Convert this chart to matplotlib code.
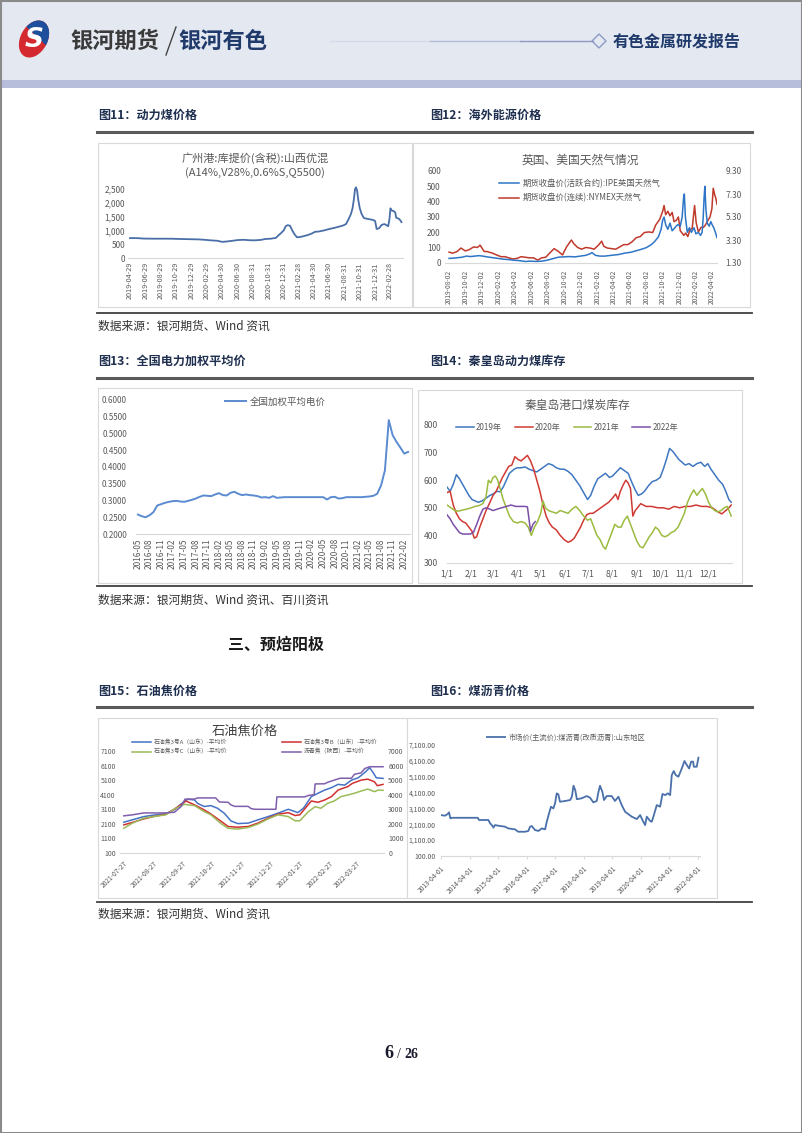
import matplotlib as mpl
import matplotlib.pyplot as plt
from matplotlib.lines import Line2D
from matplotlib.patches import Rectangle, Polygon, Ellipse
from matplotlib.ticker import FuncFormatter
import numpy as np
import pandas as pd

plt.rcParams['font.family'] = ['Noto Sans CJK SC', 'DejaVu Sans']
plt.rcParams['axes.unicode_minus'] = False

#######
# data

# 图11 广州港 山西优混
c11_dates = ['2019-04-29', '2019-05-15', '2019-06-01', '2019-06-20', '2019-07-10', '2019-08-01',
             '2019-08-25', '2019-09-20', '2019-10-15', '2019-11-10', '2019-12-05', '2019-12-31',
             '2020-01-25', '2020-02-20', '2020-03-15', '2020-04-10', '2020-04-30', '2020-05-20',
             '2020-06-10', '2020-07-01', '2020-07-25', '2020-08-15', '2020-09-05', '2020-09-30',
             '2020-10-20', '2020-11-10', '2020-11-30', '2020-12-10', '2020-12-20', '2020-12-31',
             '2021-01-08', '2021-01-15', '2021-01-25', '2021-02-03', '2021-02-12', '2021-02-22',
             '2021-03-05', '2021-03-20', '2021-04-05', '2021-04-20', '2021-05-05', '2021-05-20',
             '2021-06-10', '2021-06-30', '2021-07-20', '2021-08-10', '2021-08-25', '2021-09-05',
             '2021-09-15', '2021-09-25', '2021-10-01', '2021-10-06', '2021-10-11', '2021-10-15',
             '2021-10-19', '2021-10-24', '2021-10-30', '2021-11-06', '2021-11-15', '2021-11-28',
             '2021-12-10', '2021-12-22', '2021-12-30', '2022-01-05', '2022-01-15', '2022-01-25',
             '2022-02-05', '2022-02-15', '2022-02-20', '2022-02-25', '2022-03-01', '2022-03-06',
             '2022-03-14', '2022-03-20', '2022-03-24', '2022-04-02', '2022-04-08', '2022-04-14']
c11_vals = [720, 722, 718, 705, 702, 700,
            700, 700, 698, 690, 685, 680,
            675, 660, 640, 625, 585, 600,
            625, 650, 660, 645, 640, 655,
            690, 700, 730, 820, 900, 1000,
            1150, 1190, 1170, 1000, 860, 750,
            760, 790, 830, 880, 950, 960,
            1000, 1050, 1090, 1140, 1180, 1230,
            1400, 1600, 1800, 2100, 2500, 2560,
            2450, 2100, 1800, 1600, 1450, 1420,
            1400, 1380, 1340, 1050, 1080, 1200,
            1230, 1180, 1150, 1400, 1800, 1720,
            1700, 1650, 1460, 1430, 1380, 1300]
c11_ticks = ['2019-04-29', '2019-06-29', '2019-08-29', '2019-10-29', '2019-12-29', '2020-02-29',
             '2020-04-30', '2020-06-30', '2020-08-31', '2020-10-31', '2020-12-31', '2021-02-28',
             '2021-04-30', '2021-06-30', '2021-08-31', '2021-10-31', '2021-12-31', '2022-02-28']

# 图12 IPE / NYMEX
ipe_dates = ['2019-08-02', '2019-08-20', '2019-09-05', '2019-09-20', '2019-10-05', '2019-10-20',
             '2019-11-05', '2019-11-20', '2019-12-05', '2019-12-20', '2020-01-10', '2020-01-30',
             '2020-02-20', '2020-03-10', '2020-03-30', '2020-04-20', '2020-05-10', '2020-05-30',
             '2020-06-20', '2020-07-10', '2020-07-30', '2020-08-20', '2020-09-10', '2020-09-30',
             '2020-10-20', '2020-11-10', '2020-11-30', '2020-12-20', '2021-01-05', '2021-01-12',
             '2021-01-25', '2021-02-10', '2021-03-01', '2021-03-25', '2021-04-20', '2021-05-15',
             '2021-06-05', '2021-06-25', '2021-07-15', '2021-08-01', '2021-08-20', '2021-09-01',
             '2021-09-15', '2021-09-25', '2021-10-01', '2021-10-06', '2021-10-12', '2021-10-20',
             '2021-10-28', '2021-11-05', '2021-11-15', '2021-11-25', '2021-12-05', '2021-12-12',
             '2021-12-17', '2021-12-20', '2021-12-24', '2021-12-31', '2022-01-08', '2022-01-15',
             '2022-01-25', '2022-02-01', '2022-02-10', '2022-02-18', '2022-02-24', '2022-02-28',
             '2022-03-03', '2022-03-06', '2022-03-10', '2022-03-15', '2022-03-22', '2022-03-28',
             '2022-04-02', '2022-04-08', '2022-04-14', '2022-04-20']
ipe_vals = [30, 32, 35, 38, 45, 42,
            45, 48, 45, 40, 35, 30,
            25, 22, 18, 15, 10, 12,
            10, 12, 18, 28, 38, 40,
            42, 40, 45, 50, 60, 68,
            50, 45, 45, 50, 55, 65,
            70, 80, 90, 100, 120, 140,
            170, 220, 280, 300, 250, 220,
            260, 210, 230, 250, 240, 300,
            420, 450, 300, 200, 230, 200,
            230, 190, 200, 180, 200, 300,
            420, 500, 350, 260, 240, 270,
            250, 230, 200, 165]
nym_dates = ['2019-08-02', '2019-08-15', '2019-09-01', '2019-09-15', '2019-10-01', '2019-10-15',
             '2019-11-01', '2019-11-15', '2019-11-25', '2019-12-10', '2019-12-20', '2020-01-10',
             '2020-01-25', '2020-02-10', '2020-02-25', '2020-03-10', '2020-03-25', '2020-04-10',
             '2020-04-25', '2020-05-10', '2020-05-25', '2020-06-10', '2020-06-25', '2020-07-10',
             '2020-07-25', '2020-08-10', '2020-08-25', '2020-09-10', '2020-09-25', '2020-10-10',
             '2020-10-28', '2020-11-05', '2020-11-20', '2020-12-05', '2020-12-20', '2021-01-05',
             '2021-01-20', '2021-02-05', '2021-02-17', '2021-02-25', '2021-03-10', '2021-03-25',
             '2021-04-10', '2021-04-25', '2021-05-10', '2021-05-25', '2021-06-10', '2021-06-25',
             '2021-07-10', '2021-07-25', '2021-08-10', '2021-08-25', '2021-09-05', '2021-09-20',
             '2021-10-01', '2021-10-06', '2021-10-12', '2021-10-20', '2021-10-28', '2021-11-05',
             '2021-11-12', '2021-11-20', '2021-11-28', '2021-12-05', '2021-12-12', '2021-12-18',
             '2021-12-25', '2022-01-02', '2022-01-10', '2022-01-18', '2022-01-27', '2022-02-02',
             '2022-02-10', '2022-02-20', '2022-03-01', '2022-03-08', '2022-03-15', '2022-03-25',
             '2022-04-01', '2022-04-06', '2022-04-12', '2022-04-16', '2022-04-20']
nym_vals = [2.25, 2.15, 2.30, 2.60, 2.35, 2.45,
            2.70, 2.65, 2.85, 2.30, 2.30, 2.15,
            2.00, 1.85, 1.85, 1.75, 1.65, 1.70,
            1.85, 1.80, 1.75, 1.75, 1.55, 1.75,
            1.80, 2.20, 2.55, 2.30, 2.00, 2.70,
            3.30, 3.00, 2.65, 2.50, 2.65, 2.60,
            2.50, 2.85, 3.20, 2.75, 2.60, 2.55,
            2.50, 2.70, 2.90, 2.90, 3.15, 3.50,
            3.60, 3.95, 4.00, 3.95, 4.60, 5.10,
            5.80, 6.30, 5.50, 5.80, 5.40, 5.70,
            4.90, 5.00, 5.30, 4.10, 3.90, 3.70,
            3.90, 3.60, 4.20, 4.30, 6.30, 4.80,
            4.00, 4.40, 4.40, 4.60, 4.90, 5.30,
            6.00, 7.80, 7.20, 6.90, 6.40]
c12_ticks = ['2019-08-02', '2019-10-02', '2019-12-02', '2020-02-02', '2020-04-02', '2020-06-02',
             '2020-08-02', '2020-10-02', '2020-12-02', '2021-02-02', '2021-04-02', '2021-06-02',
             '2021-08-02', '2021-10-02', '2021-12-02', '2022-02-02', '2022-04-02']

# 图13 全国加权平均电价 (月度, 2016-05 起)
elec_start = '2016-05'
elec_vals = [0.258, 0.253, 0.250, 0.256, 0.265, 0.285, 0.289, 0.293,
             0.296, 0.298, 0.299, 0.297, 0.296, 0.299, 0.302, 0.306, 0.311, 0.315, 0.314, 0.313,
             0.318, 0.322, 0.316, 0.315, 0.323, 0.326, 0.320, 0.316, 0.318, 0.316, 0.315, 0.313,
             0.309, 0.310, 0.308, 0.313, 0.308, 0.309, 0.310, 0.310, 0.310, 0.310, 0.310, 0.310,
             0.310, 0.310, 0.310, 0.310, 0.310, 0.303, 0.310, 0.311, 0.306, 0.307, 0.310, 0.310,
             0.310, 0.310, 0.310, 0.311, 0.312, 0.314, 0.320, 0.345, 0.390, 0.540, 0.495, 0.475,
             0.458, 0.440, 0.445]

# 图14 秦皇岛港口煤炭库存 (日序号, 万吨)
d2019 = [0, 4, 8, 12, 16, 20, 24, 28, 32, 36, 40, 45, 50, 55, 59, 64, 68, 72, 76, 80, 86, 90, 95,
         100, 105, 110, 115, 120, 125, 130, 135, 140, 145, 150, 155, 160, 165, 170, 175, 180, 184,
         188, 193, 198, 203, 208, 212, 217, 222, 227, 232, 237, 241, 245, 249, 253, 258, 263, 268,
         273, 277, 281, 285, 289, 293, 297, 301, 305, 310, 315, 320, 325, 330, 334, 338, 343, 348,
         353, 357, 361, 364]
v2019 = [575, 560, 585, 620, 605, 585, 565, 545, 530, 525, 520, 525, 535, 545, 550, 560, 558, 575,
         600, 625, 640, 645, 645, 648, 640, 635, 630, 640, 650, 660, 655, 645, 640, 640, 632, 620,
         600, 580, 555, 530, 545, 575, 605, 615, 625, 610, 615, 630, 645, 635, 625, 590, 565, 545,
         550, 560, 580, 595, 600, 610, 640, 675, 715, 705, 690, 675, 665, 655, 660, 650, 660, 665,
         650, 660, 640, 620, 600, 585, 560, 530, 520]
d2020 = [0, 4, 8, 12, 16, 20, 24, 28, 32, 35, 38, 42, 46, 50, 55, 59, 63, 67, 71, 75, 79, 83, 87,
         91, 95, 99, 103, 107, 111, 115, 119, 123, 127, 131, 135, 140, 145, 150, 155, 159, 163, 167,
         171, 175, 179, 183, 187, 192, 197, 202, 207, 212, 216, 219, 222, 226, 229, 232, 235, 238,
         241, 244, 248, 255, 262, 270, 277, 284, 291, 298, 305, 312, 319, 326, 333, 340, 347, 352,
         357, 361, 364]
v2020 = [555, 560, 510, 480, 460, 450, 445, 430, 415, 390, 395, 430, 460, 490, 520, 545, 560, 585,
         610, 630, 650, 655, 685, 675, 670, 680, 690, 670, 640, 600, 560, 510, 470, 445, 430, 420,
         400, 385, 375, 380, 390, 410, 430, 455, 475, 480, 480, 490, 500, 510, 520, 535, 550, 530,
         560, 585, 600, 590, 570, 470, 490, 500, 515, 505, 505, 500, 500, 495, 505, 500, 505, 505,
         510, 505, 505, 500, 485, 478, 490, 500, 510]
d2021 = [0, 5, 10, 15, 20, 25, 31, 36, 41, 46, 50, 53, 56, 59, 62, 65, 68, 72, 76, 80, 85, 90, 95,
         100, 104, 108, 112, 116, 120, 123, 126, 130, 135, 140, 145, 150, 155, 160, 165, 170, 175,
         180, 184, 188, 192, 196, 200, 203, 207, 211, 215, 219, 223, 227, 231, 235, 239, 243, 247,
         251, 255, 259, 263, 267, 271, 275, 279, 283, 287, 291, 296, 300, 304, 308, 312, 316, 320,
         324, 327, 331, 335, 339, 343, 347, 351, 355, 359, 364]
v2021 = [510, 500, 490, 488, 492, 495, 500, 505, 508, 515, 540, 600, 590, 610, 615, 600, 570, 530,
         500, 470, 450, 445, 450, 445, 430, 400, 430, 450, 480, 525, 500, 490, 485, 480, 490, 485,
         480, 495, 505, 490, 470, 455, 460, 430, 400, 385, 360, 350, 380, 410, 440, 430, 430, 455,
         470, 440, 410, 380, 360, 355, 375, 395, 410, 430, 420, 400, 395, 400, 410, 415, 430, 455,
         480, 520, 545, 565, 545, 560, 570, 550, 520, 500, 490, 485, 490, 500, 505, 470]
d2022 = [0, 4, 8, 12, 16, 20, 25, 30, 34, 38, 42, 46, 50, 55, 59, 64, 70, 76, 82, 88, 94, 100,
         103, 105, 107, 110, 113]
v2022 = [475, 460, 440, 425, 410, 405, 405, 405, 412, 440, 470, 495, 500, 495, 490, 495, 500, 505,
         510, 505, 505, 505, 503, 460, 415, 440, 450]
month_days = [0, 31, 59, 90, 120, 151, 181, 212, 243, 273, 304, 334]
month_labels = ['1/1', '2/1', '3/1', '4/1', '5/1', '6/1', '7/1', '8/1', '9/1', '10/1', '11/1', '12/1']

# 图15 石油焦价格
pa_dates = ['2021-07-27', '2021-08-05', '2021-08-17', '2021-08-27', '2021-09-09', '2021-09-18',
            '2021-09-27', '2021-10-02', '2021-10-09', '2021-10-12', '2021-10-19', '2021-10-26',
            '2021-11-02', '2021-11-09', '2021-11-16', '2021-11-23', '2021-12-04', '2021-12-14',
            '2021-12-25', '2022-01-04', '2022-01-15', '2022-01-22', '2022-01-25', '2022-01-31',
            '2022-02-08', '2022-02-15', '2022-02-22', '2022-03-01', '2022-03-08', '2022-03-15',
            '2022-03-22', '2022-03-29', '2022-04-05', '2022-04-10', '2022-04-13', '2022-04-17',
            '2022-04-24']
pa_vals = [2210, 2380, 2600, 2700, 2800, 3080, 3580, 3790, 3740, 3510, 3290, 3350,
           3170, 2830, 2300, 2120, 2150, 2370, 2600, 2830, 3100, 2940, 2870, 3190,
           3970, 4200, 4420, 4580, 4810, 4760, 5100, 5260, 5630, 5950, 5680, 5260, 5220]
pb_dates = ['2021-07-27', '2021-08-05', '2021-08-17', '2021-08-27', '2021-09-09', '2021-09-18',
            '2021-09-27', '2021-09-30', '2021-10-09', '2021-10-19', '2021-10-26', '2021-11-06',
            '2021-11-13', '2021-11-23', '2021-12-04', '2021-12-14', '2021-12-25', '2022-01-04',
            '2022-01-15', '2022-01-22', '2022-01-27', '2022-02-08', '2022-02-15', '2022-02-22',
            '2022-03-01', '2022-03-08', '2022-03-13', '2022-03-18', '2022-03-23', '2022-04-01',
            '2022-04-08', '2022-04-15', '2022-04-18', '2022-04-24']
pb_vals = [2030, 2200, 2440, 2600, 2760, 3120, 3510, 3670, 3400, 3060, 2780, 2260,
           1920, 1870, 1920, 2150, 2490, 2760, 2870, 2670, 2720, 3670, 3580, 3740,
           3970, 4420, 4540, 4650, 4880, 5100, 5170, 4990, 4720, 4810]
pc_dates = ['2021-07-27', '2021-08-05', '2021-08-17', '2021-08-27', '2021-09-09', '2021-09-18',
            '2021-09-28', '2021-10-09', '2021-10-19', '2021-10-26', '2021-11-06', '2021-11-13',
            '2021-11-23', '2021-12-04', '2021-12-14', '2021-12-25', '2022-01-04', '2022-01-15',
            '2022-01-22', '2022-01-27', '2022-02-05', '2022-02-12', '2022-02-18', '2022-02-25',
            '2022-03-04', '2022-03-11', '2022-03-18', '2022-03-25', '2022-04-01', '2022-04-08',
            '2022-04-15', '2022-04-19', '2022-04-24']
pc_vals = [1800, 2150, 2490, 2600, 2720, 3120, 3440, 3350, 2940, 2720, 2100, 1800,
           1740, 1850, 2080, 2440, 2720, 2600, 2310, 2310, 2940, 3280, 3170, 3510,
           3670, 3970, 4080, 4200, 4350, 4490, 4310, 4420, 4400]
lq_dates = ['2021-07-27', '2021-08-05', '2021-08-17', '2021-09-09', '2021-09-18', '2021-09-25',
            '2021-09-29', '2021-10-09', '2021-10-12', '2021-10-31', '2021-11-04', '2021-11-13',
            '2021-11-16', '2021-11-20', '2021-12-04', '2021-12-07', '2021-12-11', '2022-01-02',
            '2022-01-03', '2022-02-01', '2022-02-05', '2022-02-11', '2022-02-12', '2022-02-22',
            '2022-02-25', '2022-03-04', '2022-03-10', '2022-03-22', '2022-03-25', '2022-04-01',
            '2022-04-05', '2022-04-10', '2022-04-24']
lq_vals = [2550, 2620, 2750, 2750, 2800, 3200, 3700, 3700, 3780, 3780, 3500, 3480,
           3300, 3200, 3200, 3050, 3000, 3000, 3850, 3850, 3950, 4000, 4740, 4750,
           4850, 5000, 5130, 5130, 5400, 5500, 5800, 5920, 5920]
c15_ticks = ['2021-07-27', '2021-08-27', '2021-09-27', '2021-10-27', '2021-11-27', '2021-12-27',
             '2022-01-27', '2022-02-27', '2022-03-27']

# 图16 煤沥青 山东
lb_dates = ['2013-04-01', '2013-05-22', '2013-06-26', '2013-07-13', '2013-07-30', '2013-08-16',
            '2014-07-15', '2014-08-01', '2014-11-28', '2014-12-20', '2015-01-18', '2015-01-31',
            '2015-02-21', '2015-04-04', '2015-06-28', '2015-08-10', '2015-11-03', '2015-12-16',
            '2016-03-10', '2016-04-23', '2016-05-14', '2016-06-05', '2016-07-16', '2016-08-29',
            '2016-10-12', '2016-11-23', '2016-12-14', '2017-01-12', '2017-02-06', '2017-03-08',
            '2017-03-30', '2017-04-20', '2017-05-11', '2017-06-01', '2017-08-07', '2017-10-09',
            '2017-10-31', '2017-11-21', '2017-12-13', '2018-01-03', '2018-03-06', '2018-05-08',
            '2018-06-20', '2018-08-02', '2018-09-14', '2018-10-05', '2018-10-26', '2018-11-25',
            '2018-12-16', '2019-01-20', '2019-03-24', '2019-05-06', '2019-06-18', '2019-07-31',
            '2019-09-12', '2019-12-06', '2020-02-09', '2020-03-22', '2020-04-21', '2020-05-25',
            '2020-06-15', '2020-07-28', '2020-08-18', '2020-09-08', '2020-10-21', '2020-12-03',
            '2021-01-02', '2021-02-05', '2021-03-11', '2021-04-10', '2021-05-01', '2021-05-26',
            '2021-06-21', '2021-07-25', '2021-09-06', '2021-10-10', '2021-11-09', '2021-12-09',
            '2022-01-04', '2022-01-29', '2022-02-07', '2022-03-16', '2022-04-07']
lb_vals = [2680, 2640, 2750, 2850, 2470, 2510,
           2510, 2370, 2370, 2160, 2010, 1890,
           2050, 2010, 1950, 1840, 1780, 1630,
           1630, 1680, 1950, 1990, 1740, 1680,
           1840, 1780, 2260, 2790, 3210, 3100,
           3420, 4050, 3990, 3520, 3570, 3630,
           3840, 4530, 4260, 3680, 3740, 3880,
           3780, 3480, 3570, 4110, 4530, 4150,
           3630, 3880, 3880, 3570, 3840, 3310,
           2890, 2580, 2430, 2680, 2370, 2050,
           2580, 2310, 2260, 2580, 3310, 3210,
           4010, 3940, 4050, 3940, 5200, 5460,
           5200, 5100, 5620, 6090, 5840, 5620,
           6050, 6050, 5730, 5730, 6300]
c16_ticks = ['2013-04-01', '2014-04-01', '2015-04-01', '2016-04-01', '2017-04-01', '2018-04-01',
             '2019-04-01', '2020-04-01', '2021-04-01', '2022-04-01']

#######
# page

W, H = 802, 1133
fig = plt.figure(figsize=(W / 100, H / 100), dpi=100)


def frect(x0, y0, x1, y1):
    return [x0 / W, 1 - y1 / H, (x1 - x0) / W, (y1 - y0) / H]


def ftext(x, y, s, **kw):
    kw.setdefault('va', 'center')
    return fig.text(x / W, 1 - y / H, s, **kw)


def fline(x0, x1, y0, y1=None, **kw):
    if y1 is None:
        y1 = y0
    fig.add_artist(Line2D([x0 / W, x1 / W], [1 - y0 / H, 1 - y1 / H], transform=fig.transFigure, **kw))


def fbox(x0, y0, x1, y1, **kw):
    kw.setdefault('zorder', -5)
    fig.add_artist(Rectangle((x0 / W, 1 - y1 / H), (x1 - x0) / W, (y1 - y0) / H,
                             transform=fig.transFigure, **kw))


def fpt(x, y):
    return (x / W, 1 - y / H)


GRAY = '#595959'
AXC = '#d9d9d9'


def style(ax, fs=5.5, ypad=2, xpad=2):
    for s in ['top', 'right', 'left']:
        ax.spines[s].set_visible(False)
    ax.spines['bottom'].set_color(AXC)
    ax.spines['bottom'].set_linewidth(0.8)
    ax.tick_params(axis='y', length=0, labelsize=fs, labelcolor=GRAY, pad=ypad)
    ax.tick_params(axis='x', length=0, labelsize=fs, labelcolor=GRAY, pad=xpad)
    ax.patch.set_alpha(0)


# header
fbox(0, 0, W, 80, fc='#e4e8f0', ec='none')
fbox(0, 80, W, 88, fc='#b7bedb', ec='none')
lax = fig.add_axes(frect(16, 18, 52, 60))
lax.set_xlim(-1, 1)
lax.set_ylim(-1.17, 1.17)
lax.axis('off')
lax.add_patch(Ellipse((0, 0), 1.5, 2.2, angle=-28, fc='#d42a2f', ec='none'))
blue = Ellipse((0, 0), 1.5, 2.2, angle=-28, fc='#1d4f9c', ec='none')
lax.add_patch(blue)
cut = Polygon([(-2, 2.2), (2, 2.2), (2, -1.6)], closed=True, transform=lax.transData)
blue.set_clip_path(cut)
lax.text(0.02, -0.05, 'S', color='white', fontsize=19, fontweight='bold', style='italic',
         ha='center', va='center', family='DejaVu Sans')
ftext(70, 41, '银河期货', fontsize=16, fontweight='bold', color='#3a3a3a')
fline(166, 176, 55, 27, color='#444444', lw=1)
ftext(178, 41, '银河有色', fontsize=16, fontweight='bold', color='#1f3a6b')
fline(330, 430, 41, color='#d3d9ea', lw=1)
fline(430, 520, 41, color='#b3bcd9', lw=1)
fline(520, 593, 41, color='#8d9ac6', lw=1)
fig.add_artist(Polygon([fpt(592, 41), fpt(599, 34), fpt(606, 41), fpt(599, 48)], closed=True,
                       transform=fig.transFigure, fc='#e4e8f0', ec='#8d9ac6', lw=1))
ftext(613, 42, '有色金属研发报告', fontsize=11.5, fontweight='bold', color='#1f3a6b')
fbox(0.5, 0.5, W - 0.5, H - 0.5, fc='none', ec='#8a8a8a', lw=1.5, zorder=10)

hd = dict(fontsize=8.7, fontweight='bold', color='#1f2f4f')
src = dict(fontsize=8.5, color='#333333')
ftext(98, 115, '图11：动力煤价格', **hd)
ftext(430, 115, '图12：海外能源价格', **hd)
fline(97, 752, 132, color='#5a5a5a', lw=2.2)
fbox(98, 143, 412, 307, fc='white', ec=AXC, lw=0.8)
fbox(413, 143, 750, 307, fc='white', ec=AXC, lw=0.8)
fline(97, 752, 313, color='#404040', lw=1.3)
ftext(98, 326, '数据来源：银河期货、Wind 资讯', **src)
ftext(98, 361, '图13：全国电力加权平均价', **hd)
ftext(430, 361, '图14：秦皇岛动力煤库存', **hd)
fline(97, 752, 378, color='#5a5a5a', lw=2.2)
fbox(98, 388, 412, 583, fc='white', ec=AXC, lw=0.8)
fbox(418, 390, 742, 583, fc='white', ec=AXC, lw=0.8)
fline(97, 752, 586, color='#404040', lw=1.3)
ftext(98, 600, '数据来源：银河期货、Wind 资讯、百川资讯', **src)
ftext(228, 645, '三、预焙阳极', fontsize=11.5, fontweight='bold', color='#1a1a1a')
ftext(98, 691, '图15：石油焦价格', **hd)
ftext(430, 691, '图16：煤沥青价格', **hd)
fline(97, 752, 707, color='#5a5a5a', lw=2.2)
fbox(98, 718, 407, 898, fc='white', ec=AXC, lw=0.8)
fbox(407, 718, 717, 898, fc='white', ec=AXC, lw=0.8)
fline(97, 752, 902, color='#404040', lw=1.3)
ftext(98, 914, '数据来源：银河期货、Wind 资讯', **src)
ftext(393, 1053, '6', fontsize=13, fontweight='bold', family='Liberation Serif', ha='right', color='#1a1a2e')
ftext(397, 1054, '/', fontsize=10, family='Liberation Serif', color='#1a1a2e')
ftext(404, 1054, '26', fontsize=10, fontweight='bold', family='Liberation Serif', color='#1a1a2e')

#######
# 图11
ax = fig.add_axes(frect(128, 183.5, 403, 258))
ax.plot(pd.to_datetime(c11_dates), c11_vals, color='#4a6fa8', lw=1.3)
ax.set_xlim(pd.Timestamp('2019-04-21'), pd.Timestamp('2022-04-20'))
ax.set_ylim(0, 2700)
ax.set_yticks(range(0, 2501, 500))
ax.yaxis.set_major_formatter(FuncFormatter(lambda v, p: f'{v:,.0f}'))
ax.set_xticks(pd.to_datetime(c11_ticks))
ax.set_xticklabels(c11_ticks, rotation=90, ha='center', va='top')
style(ax, fs=6, ypad=2, xpad=3)
ax.tick_params(axis='x', labelsize=5.2)
ftext(255, 158, '广州港:库提价(含税):山西优混', ha='center', fontsize=8, color=GRAY)
ftext(255, 173, '(A14%,V28%,0.6%S,Q5500)', ha='center', fontsize=8, color=GRAY)

#######
# 图12
ax = fig.add_axes(frect(445, 171, 717, 263))
l1, = ax.plot(pd.to_datetime(ipe_dates), ipe_vals, color='#2e75c6', lw=1.1)
ax.set_xlim(pd.Timestamp('2019-07-18'), pd.Timestamp('2022-04-20'))
ax.set_ylim(0, 600)
ax.set_yticks(range(0, 601, 100))
ax.set_xticks(pd.to_datetime(c12_ticks))
ax.set_xticklabels(c12_ticks, rotation=90, ha='center', va='top')
style(ax, fs=6, ypad=3, xpad=5)
ax.tick_params(axis='x', labelsize=4.8)
axr = ax.twinx()
l2, = axr.plot(pd.to_datetime(nym_dates), nym_vals, color='#c0392b', lw=1.1)
axr.set_ylim(1.3, 9.3)
axr.set_yticks([1.3, 3.3, 5.3, 7.3, 9.3])
axr.yaxis.set_major_formatter(FuncFormatter(lambda v, p: f'{v:.2f}'))
for s in axr.spines.values():
    s.set_visible(False)
axr.tick_params(axis='y', length=0, labelsize=6, labelcolor=GRAY, pad=6)
ax.set_zorder(axr.get_zorder() + 1)
ftext(580, 160, '英国、美国天然气情况', ha='center', fontsize=8.5, color=GRAY)
fig.legend([l1, l2], ['期货收盘价(活跃合约):IPE英国天然气', '期货收盘价(连续):NYMEX天然气'],
           loc='upper left', bbox_to_anchor=fpt(495, 175), frameon=False, fontsize=6,
           handlelength=2.4, handletextpad=0.4, labelspacing=0.6, borderpad=0, labelcolor=GRAY)

#######
# 图13
ax = fig.add_axes(frect(136, 400, 410, 534))
ex = np.arange(len(elec_vals))
l1, = ax.plot(ex, elec_vals, color='#5b8bd0', lw=1.4)
ax.set_xlim(-0.5, len(elec_vals) - 0.5)
ax.set_ylim(0.2, 0.6)
ax.set_yticks(np.arange(0.2, 0.6001, 0.05))
ax.yaxis.set_major_formatter(FuncFormatter(lambda v, p: f'{v:.4f}'))
elec_lab = pd.date_range(elec_start, periods=len(elec_vals), freq='MS').strftime('%Y-%m')
ax.set_xticks(ex[::3])
ax.set_xticklabels(elec_lab[::3], rotation=90, ha='center', va='top')
style(ax, fs=5.8, ypad=6.5, xpad=3)
ax.tick_params(axis='x', labelsize=6)
fig.legend([l1], ['全国加权平均电价'], loc='center left', bbox_to_anchor=fpt(220, 402),
           frameon=False, fontsize=6.8, handlelength=2.2, handletextpad=0.4, borderpad=0,
           labelcolor=GRAY)

#######
# 图14
ax = fig.add_axes(frect(447, 425, 732, 563))
h19, = ax.plot(d2019, v2019, color='#3f77c0', lw=1.1)
h20, = ax.plot(d2020, v2020, color='#d03a34', lw=1.1)
h21, = ax.plot(d2021, v2021, color='#9bbb3f', lw=1.1)
h22, = ax.plot(d2022, v2022, color='#7a4fa8', lw=1.1)
ax.set_xlim(0, 365)
ax.set_ylim(300, 800)
ax.set_yticks(range(300, 801, 100))
ax.set_xticks(month_days)
ax.set_xticklabels(month_labels)
style(ax, fs=6.2, ypad=6.5, xpad=5)
ftext(578, 405, '秦皇岛港口煤炭库存', ha='center', fontsize=8.5, color=GRAY)
fig.legend([h19, h20, h21, h22], ['2019年', '2020年', '2021年', '2022年'], loc='center',
           bbox_to_anchor=fpt(567, 427), ncol=4, frameon=False, fontsize=5.8, handlelength=2.2,
           handletextpad=0.3, columnspacing=1.6, borderpad=0, labelcolor=GRAY)

#######
# 图15
ax = fig.add_axes(frect(120, 751, 384, 853))
ha_, = ax.plot(pd.to_datetime(pa_dates), pa_vals, color='#4472c4', lw=1.1)
hb_, = ax.plot(pd.to_datetime(pb_dates), pb_vals, color='#d03030', lw=1.1)
hc_, = ax.plot(pd.to_datetime(pc_dates), pc_vals, color='#9bbb59', lw=1.1)
ax.set_xlim(pd.Timestamp('2021-07-23'), pd.Timestamp('2022-04-25'))
ax.set_ylim(100, 7100)
ax.set_yticks(range(100, 7101, 1000))
ax.set_xticks(pd.to_datetime(c15_ticks))
ax.set_xticklabels(c15_ticks, rotation=45, ha='right', va='top', rotation_mode='anchor')
style(ax, fs=5, ypad=3, xpad=5)
ax.tick_params(axis='x', labelsize=4.8)
axr = ax.twinx()
hd_, = axr.plot(pd.to_datetime(lq_dates), lq_vals, color='#7f5fad', lw=1.1)
axr.set_ylim(0, 7000)
axr.set_yticks(range(0, 7001, 1000))
for s in axr.spines.values():
    s.set_visible(False)
axr.tick_params(axis='y', length=0, labelsize=5, labelcolor=GRAY, pad=3)
ftext(245, 731, '石油焦价格', ha='center', fontsize=9.5, color='#404040')
lg = dict(loc='upper left', frameon=False, fontsize=4.2, handlelength=3.2, handletextpad=0.5,
          labelspacing=0.6, borderpad=0, labelcolor=GRAY)
fig.legend([ha_, hc_], ['石油焦3号A（山东）-平均价', '石油焦3号C（山东）-平均价'],
           bbox_to_anchor=fpt(129, 736), **lg)
fig.legend([hb_, hd_], ['石油焦3号B（山东）-平均价', '沥青焦（陕西）-平均价'],
           bbox_to_anchor=fpt(279, 736), **lg)

#######
# 图16
ax = fig.add_axes(frect(441, 745, 700, 856))
l1, = ax.plot(pd.to_datetime(lb_dates), lb_vals, color='#4a70aa', lw=1.3)
ax.set_xlim(pd.Timestamp('2013-04-01'), pd.Timestamp('2022-04-27'))
ax.set_ylim(100, 7100)
ax.set_yticks(range(100, 7101, 1000))
ax.yaxis.set_major_formatter(FuncFormatter(lambda v, p: f'{v:,.2f}'))
ax.set_xticks(pd.to_datetime(c16_ticks))
ax.set_xticklabels(c16_ticks, rotation=45, ha='right', va='top', rotation_mode='anchor')
style(ax, fs=5, ypad=4, xpad=4)
ax.tick_params(axis='x', labelsize=4.8, length=2.5, color=AXC)
fig.legend([l1], ['市场价(主流价):煤沥青(改质沥青):山东地区'], loc='center left',
           bbox_to_anchor=fpt(483, 738), frameon=False, fontsize=5.2, handlelength=2.6,
           handletextpad=0.4, borderpad=0, labelcolor=GRAY)

plt.savefig('out.png', dpi=100)
